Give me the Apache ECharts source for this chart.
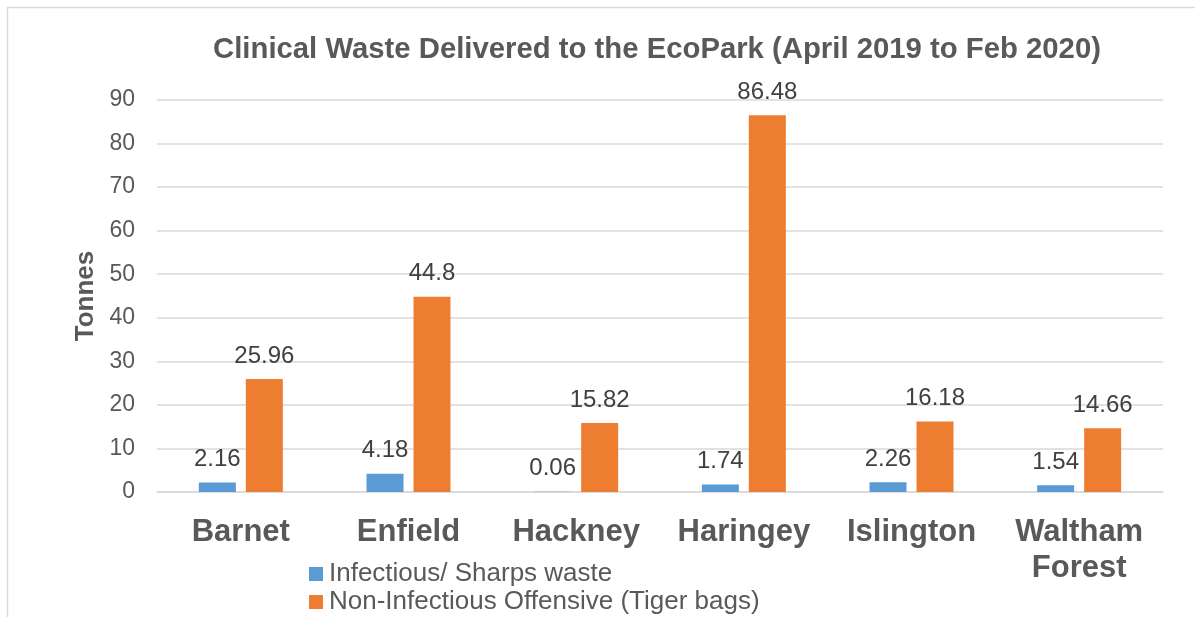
<!DOCTYPE html>
<html>
<head>
<meta charset="utf-8">
<script src="https://cdn.jsdelivr.net/npm/echarts@6/dist/echarts.min.js"></script>
<style>html,body{margin:0;padding:0;background:#fff;}#c{width:1195px;height:617px;}</style>
</head>
<body>
<div id="c"></div>
<script>
const categories = ['Barnet', 'Enfield', 'Hackney', 'Haringey', 'Islington', 'Waltham\nForest'];
const infectious = [2.16, 4.18, 0.06, 1.74, 2.26, 1.54];
const nonInfectious = [25.96, 44.8, 15.82, 86.48, 16.18, 14.66];
const seriesNames = ['Infectious/ Sharps waste', 'Non-Infectious Offensive (Tiger bags)'];

const chart = echarts.init(document.getElementById('c'));
const font = 'Arial, "Liberation Sans", sans-serif';
const labelStyle = {
  show: true, position: 'top', distance: 11,
  color: '#404040', fontSize: 24, fontFamily: font
};
const legendBase = {
  orient: 'horizontal', left: 309, padding: 0,
  itemWidth: 14, itemHeight: 14, icon: 'rect',
  textStyle: { color: '#595959', fontSize: 26, fontFamily: font, padding: [0, 0, 0, 1] }
};
chart.setOption({
  animation: false,
  textStyle: { fontFamily: font },
  graphic: [{
    type: 'rect', shape: { x: 7.5, y: 7.5, width: 1200, height: 700 },
    style: { fill: 'none', stroke: '#d9d9d9', lineWidth: 1.5 }, silent: true
  }],
  title: {
    text: 'Clinical Waste Delivered to the EcoPark (April 2019 to Feb 2020)',
    left: 652, top: 30, textAlign: 'center',
    textStyle: { color: '#595959', fontSize: 29.3, fontWeight: 'bold', fontFamily: font }
  },
  legend: [
    Object.assign({}, legendBase, { top: 561, data: [seriesNames[0]] }),
    Object.assign({}, legendBase, { top: 589, data: [seriesNames[1]] })
  ],
  grid: { left: 157, right: 32, top: 100, bottom: 125, containLabel: false },
  xAxis: {
    type: 'category', data: categories,
    axisLine: { show: true, lineStyle: { color: '#d9d9d9', width: 1.5 } },
    axisTick: { show: false },
    axisLabel: {
      color: '#595959', fontSize: 31, fontWeight: 'bold', fontFamily: font,
      margin: 22, lineHeight: 36, interval: 0
    }
  },
  yAxis: {
    type: 'value', min: 0, max: 90, interval: 10,
    name: 'Tonnes', nameLocation: 'middle', nameGap: 57, nameRotate: 90,
    nameTextStyle: { color: '#595959', fontSize: 26, fontWeight: 'bold', fontFamily: font },
    axisLine: { show: false }, axisTick: { show: false },
    axisLabel: { color: '#595959', fontSize: 23, fontFamily: font, margin: 22 },
    splitLine: { lineStyle: { color: '#d9d9d9', width: 1.5 } }
  },
  series: [
    {
      name: seriesNames[0], type: 'bar', data: infectious,
      barWidth: 37, barGap: '27%',
      itemStyle: { color: '#5b9bd5' }, label: labelStyle
    },
    {
      name: seriesNames[1], type: 'bar', data: nonInfectious,
      barWidth: 37,
      itemStyle: { color: '#ed7d31' }, label: labelStyle
    }
  ]
});
</script>
</body>
</html>
